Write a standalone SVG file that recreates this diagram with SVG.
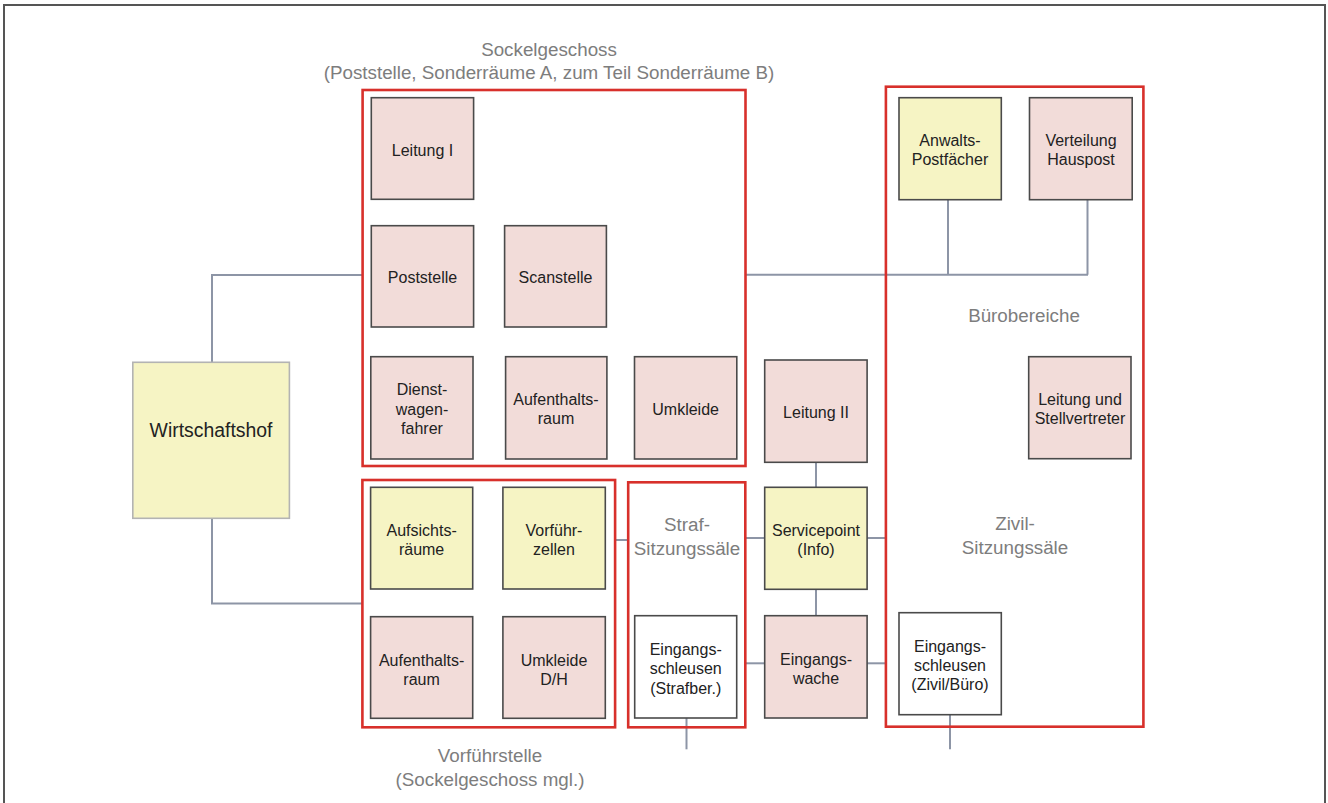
<svg xmlns="http://www.w3.org/2000/svg" width="1328" height="803" viewBox="0 0 1328 803">
<style>
.n{stroke:#4a4a4a;stroke-width:1.6}
.p{fill:#f2dcd9}
.y{fill:#f6f4c4}
.w{fill:#ffffff}
.g{fill:none;stroke:#d8302b;stroke-width:2.6}
.c{fill:none;stroke:#8d95a6;stroke-width:2}
text{font-family:"Liberation Sans",Arial,sans-serif;text-anchor:middle}
.t{font-size:16px;fill:#222222}
.l{font-size:18.8px;fill:#7d7d7d}
</style>
<rect x="0" y="0" width="1328" height="803" fill="#ffffff"/>
<rect x="4" y="5" width="1321" height="810" fill="none" stroke="#555555" stroke-width="2"/>

<g id="connectors">
<polyline class="c" points="212,362 212,275 362,275"/>
<polyline class="c" points="212,518 212,603.5 362,603.5"/>
<line class="c" x1="746" y1="274.7" x2="1088" y2="274.7"/>
<line class="c" x1="948" y1="199.7" x2="948" y2="274.7"/>
<line class="c" x1="1087.5" y1="199.7" x2="1087.5" y2="274.7"/>
<line class="c" x1="816" y1="462.3" x2="816" y2="487.3"/>
<line class="c" x1="816" y1="589.3" x2="816" y2="615.7"/>
<line class="c" x1="615" y1="540" x2="628" y2="540"/>
<line class="c" x1="745.3" y1="538" x2="764.7" y2="538"/>
<line class="c" x1="867.1" y1="538" x2="886" y2="538"/>
<line class="c" x1="745.3" y1="663.3" x2="764.7" y2="663.3"/>
<line class="c" x1="867.1" y1="663.3" x2="886" y2="663.3"/>
<line class="c" x1="686.5" y1="698" x2="686.5" y2="749.3"/>
<line class="c" x1="950" y1="698.5" x2="950" y2="749.3"/>
</g>

<g id="sockelgeschoss">
<rect class="g" x="362.6" y="90" width="382.9" height="376"/>
<text class="l" x="549" y="55.7">Sockelgeschoss</text>
<text class="l" x="549" y="79.2">(Poststelle, Sonderräume A, zum Teil Sonderräume B)</text>
</g>
<g id="leitung1"><rect class="n p" x="371.3" y="97.7" width="102.3" height="101.6"/><text class="t" x="422.5" y="155.7">Leitung I</text></g>
<g id="poststelle"><rect class="n p" x="371.3" y="225.7" width="102.3" height="101.3"/><text class="t" x="422.5" y="283">Poststelle</text></g>
<g id="scanstelle"><rect class="n p" x="504.6" y="225.7" width="101.8" height="101.3"/><text class="t" x="555.5" y="283">Scanstelle</text></g>
<g id="dienstwagenfahrer"><rect class="n p" x="370.8" y="356.7" width="102.2" height="102.3"/><text class="t" x="422" y="395">Dienst-</text><text class="t" x="422" y="414.7">wagen-</text><text class="t" x="422" y="434.2">fahrer</text></g>
<g id="aufenthaltsraum1"><rect class="n p" x="505.6" y="356.7" width="101.3" height="102.3"/><text class="t" x="556" y="405">Aufenthalts-</text><text class="t" x="556" y="424.2">raum</text></g>
<g id="umkleide"><rect class="n p" x="634.5" y="356.7" width="102.3" height="102.3"/><text class="t" x="685.6" y="414.7">Umkleide</text></g>

<g id="wirtschaftshof"><rect x="132.8" y="362.3" width="156.6" height="156" fill="#f6f4c4" stroke="#b3b3b3" stroke-width="1.6"/><text x="211" y="437" style="font-size:19.4px;fill:#222222">Wirtschaftshof</text></g>

<g id="buerobereiche">
<rect class="g" x="885.9" y="86.7" width="257.5" height="640"/>
<text class="l" x="1024" y="321.5">Bürobereiche</text>
<text class="l" x="1015" y="529.7">Zivil-</text>
<text class="l" x="1015" y="553.7">Sitzungssäle</text>
</g>
<g id="anwaltspostfaecher"><rect class="n y" x="899" y="97.7" width="102.3" height="102"/><text class="t" x="950" y="145.6">Anwalts-</text><text class="t" x="950" y="164.9">Postfächer</text></g>
<g id="verteilunghauspost"><rect class="n p" x="1029.5" y="97.7" width="102.7" height="102"/><text class="t" x="1081" y="145.6">Verteilung</text><text class="t" x="1081" y="164.9">Hauspost</text></g>
<g id="leitungstellvertreter"><rect class="n p" x="1028.7" y="356.7" width="102.3" height="102"/><text class="t" x="1080" y="404.9">Leitung und</text><text class="t" x="1080" y="423.9">Stellvertreter</text></g>
<g id="eingangsschleusenzivil"><rect class="n w" x="899" y="612.7" width="102.3" height="102"/><text class="t" x="950" y="651.6">Eingangs-</text><text class="t" x="950" y="670.6">schleusen</text><text class="t" x="950" y="689.9">(Zivil/Büro)</text></g>

<g id="leitung2"><rect class="n p" x="764.7" y="360" width="102.4" height="102.3"/><text class="t" x="816" y="417.9">Leitung II</text></g>
<g id="servicepoint"><rect class="n y" x="764.7" y="487.3" width="102.4" height="102"/><text class="t" x="816" y="535.6">Servicepoint</text><text class="t" x="816" y="554.9">(Info)</text></g>
<g id="eingangswache"><rect class="n p" x="764.7" y="615.7" width="102.4" height="102.3"/><text class="t" x="816" y="664.9">Eingangs-</text><text class="t" x="816" y="683.6">wache</text></g>

<g id="vorfuehrstelle">
<rect class="g" x="362.4" y="480" width="252.7" height="247.3"/>
<text class="l" x="490" y="762.2">Vorführstelle</text>
<text class="l" x="490" y="785.7">(Sockelgeschoss mgl.)</text>
</g>
<g id="aufsichtsraeume"><rect class="n y" x="370.6" y="487.3" width="102.1" height="101.7"/><text class="t" x="421.6" y="535.6">Aufsichts-</text><text class="t" x="421.6" y="554.6">räume</text></g>
<g id="vorfuehrzellen"><rect class="n y" x="502.9" y="487.3" width="102.4" height="101.7"/><text class="t" x="554" y="535.6">Vorführ-</text><text class="t" x="554" y="554.6">zellen</text></g>
<g id="aufenthaltsraum2"><rect class="n p" x="370.6" y="616.7" width="102.1" height="101.6"/><text class="t" x="421.6" y="665.6">Aufenthalts-</text><text class="t" x="421.6" y="684.6">raum</text></g>
<g id="umkleidedh"><rect class="n p" x="502.9" y="616.7" width="102.4" height="101.6"/><text class="t" x="554" y="665.6">Umkleide</text><text class="t" x="554" y="684.6">D/H</text></g>

<g id="strafsitzungssaele">
<rect class="g" x="628.2" y="482.3" width="117.1" height="245"/>
<text class="l" x="687" y="530.8">Straf-</text>
<text class="l" x="687" y="554.8">Sitzungssäle</text>
</g>
<g id="eingangsschleusenstraf"><rect class="n w" x="634.7" y="615.7" width="102" height="102.3"/><text class="t" x="685.7" y="654.9">Eingangs-</text><text class="t" x="685.7" y="674.2">schleusen</text><text class="t" x="685.7" y="693.8">(Strafber.)</text></g>
</svg>
